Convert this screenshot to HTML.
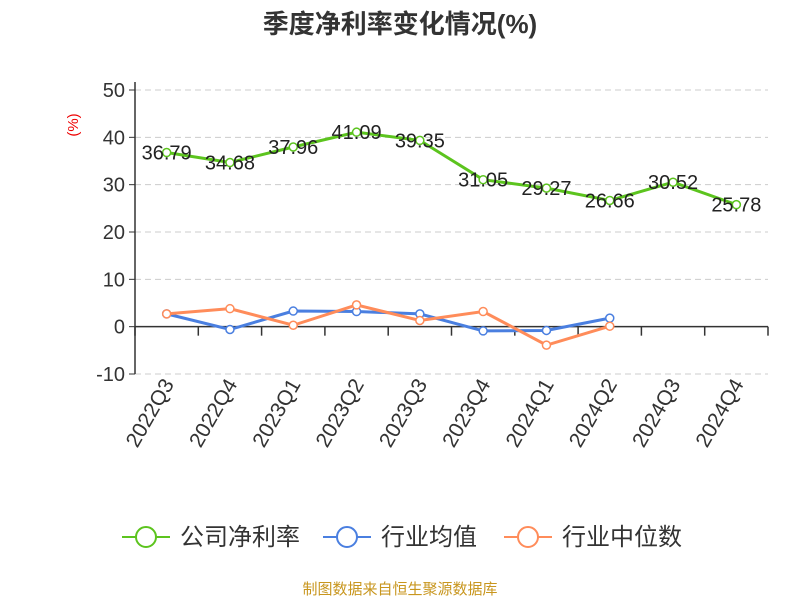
<!DOCTYPE html>
<html><head><meta charset="utf-8"><style>
body{margin:0;background:#fff;font-family:"Liberation Sans","Noto Sans CJK SC",sans-serif}
</style></head><body>
<svg id="c" width="800" height="600" xmlns="http://www.w3.org/2000/svg" font-family="Liberation Sans, Noto Sans CJK SC, sans-serif">
<text x="400" y="33" text-anchor="middle" font-size="26" font-weight="bold" fill="#333">季度净利率变化情况(%)</text>
<text x="78" y="125" text-anchor="middle" font-size="15" fill="#e00" transform="rotate(-90 78 125)">(%)</text>
<text x="400" y="594" text-anchor="middle" font-size="15" fill="#c8961e">制图数据来自恒生聚源数据库</text>
<g id="grid"></g><g id="axes"></g><g id="series"></g><g id="legend"></g>
</svg>
<script>
const categories=["2022Q3","2022Q4","2023Q1","2023Q2","2023Q3","2023Q4","2024Q1","2024Q2","2024Q3","2024Q4"];
const companyNet=[36.79,34.68,37.96,41.09,39.35,31.05,29.27,26.66,30.52,25.78];
const industryAvg=[2.7,-0.6,3.3,3.2,2.7,-0.9,-0.8,1.8];
const industryMedian=[2.7,3.8,0.3,4.6,1.3,3.2,-3.9,0.1];
const yTicks=[-10,0,10,20,30,40,50];
const NS="http://www.w3.org/2000/svg";
const x0=135,x1=768,yTop=90,yBot=374,yMin=-10,yMax=50;
const band=(x1-x0)/categories.length;
const X=i=>x0+band*(i+0.5);
const Y=v=>yBot-(v-yMin)/(yMax-yMin)*(yBot-yTop);
function mk(tag,attrs,parent,text){const e=document.createElementNS(NS,tag);for(const k in attrs)e.setAttribute(k,attrs[k]);if(text!==undefined)e.textContent=text;parent.appendChild(e);return e;}
const grid=document.getElementById('grid'),axes=document.getElementById('axes'),series=document.getElementById('series'),legend=document.getElementById('legend');
yTicks.forEach(t=>{
  const l=mk('line',{x1:x0,x2:x1,y1:Y(t),y2:Y(t),stroke:'#ccc','stroke-dasharray':'6,4'},grid);
  
  
  const tk=mk('line',{x1:x0-6,x2:x0,y1:Y(t),y2:Y(t),stroke:'#333'},axes);
  
  
  const tx=mk('text',{x:x0-10,y:Y(t)+7,'text-anchor':'end','font-size':20,fill:'#333'},axes,String(t));
  
  
});
const ya=mk('line',{x1:x0,x2:x0,y1:yTop-8,y2:yBot,stroke:'#333','stroke-width':1.5},axes);


const xa=mk('line',{x1:x0,x2:x1,y1:Y(0),y2:Y(0),stroke:'#333','stroke-width':1.5},axes);


for(let i=0;i<=categories.length;i++){
  const tk=mk('line',{x1:x0+band*i,x2:x0+band*i,y1:Y(0),y2:Y(0)+9,stroke:'#333','stroke-width':1.5},axes);
  
  
}
categories.forEach((c,i)=>{
  const t=mk('text',{x:X(i)+8,y:384,'text-anchor':'end','font-size':21,fill:'#333',transform:`rotate(-60 ${X(i)+8} 384)`},axes,c);
  
  
});
function draw(vals,color,name,labels){
  const g=mk('g',{},series);
  
  
  const p=mk('polyline',{points:vals.map((v,i)=>X(i)+','+Y(v)).join(' '),fill:'none',stroke:color,'stroke-width':3},g);
  
  
  vals.forEach((v,i)=>{
    const c=mk('circle',{cx:X(i),cy:Y(v),r:4,fill:'#fff',stroke:color,'stroke-width':1.5},g);
    
    
    if(labels){
      const t=mk('text',{x:X(i),y:Y(v)+7,'text-anchor':'middle','font-size':20,fill:'#222'},g,v.toFixed(2));
      
      
    }
  });
}
draw(industryAvg,'#4a7fe0','industry-average',false);
draw(industryMedian,'#ff8c5a','industry-median',false);
draw(companyNet,'#5cc41e','company-net-margin',true);
const items=[["公司净利率","#5cc41e",122],["行业均值","#4a7fe0",323],["行业中位数","#ff8c5a",504]];
items.forEach(it=>{
  const g=mk('g',{},legend);
  
  
  mk('line',{x1:it[2],x2:it[2]+48,y1:537,y2:537,stroke:it[1],'stroke-width':2},g);
  mk('circle',{cx:it[2]+24,cy:537,r:10,fill:'#fff',stroke:it[1],'stroke-width':2},g);
  mk('text',{x:it[2]+58,y:545,'font-size':24,fill:'#333'},g,it[0]);
});
</script>
</body></html>
